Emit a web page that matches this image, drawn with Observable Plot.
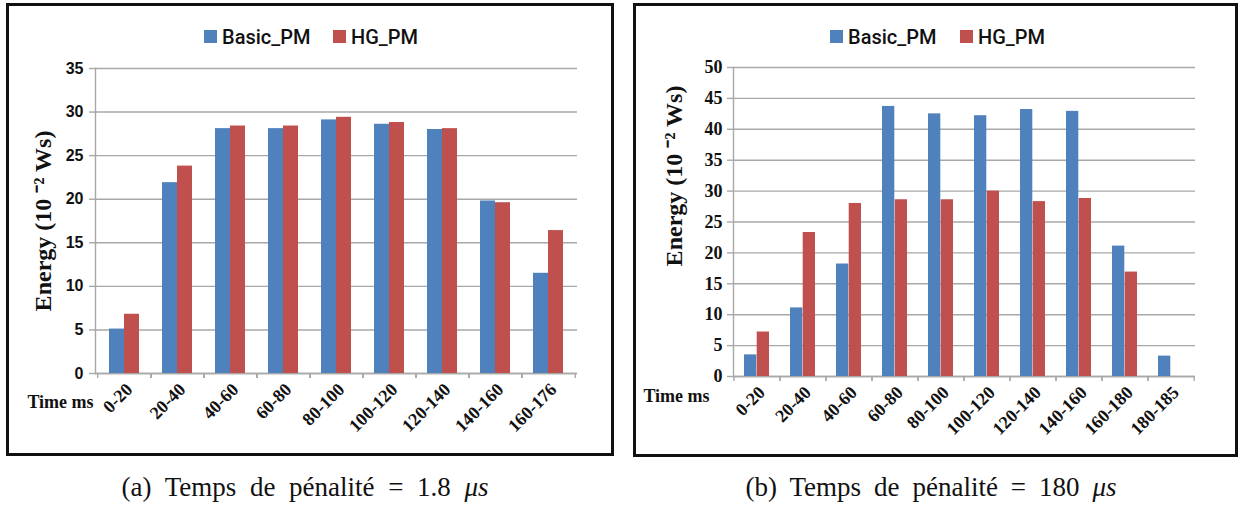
<!DOCTYPE html>
<html><head><meta charset="utf-8">
<script src="https://cdn.jsdelivr.net/npm/d3@7"></script>
<script src="https://cdn.jsdelivr.net/npm/@observablehq/plot@0.6"></script>
<style>
html,body{margin:0;padding:0;background:#fff}
body{width:1241px;height:506px;position:relative;overflow:hidden}
.box{position:absolute;box-sizing:border-box;border:3px solid #111}
.chart{position:absolute}
.sw{position:absolute;width:13px;height:13px}
.lt{position:absolute;height:24px;line-height:24px;font-family:Roboto,"Liberation Sans",sans-serif;font-weight:500;font-size:20px;color:#111;white-space:nowrap}
.cap{position:absolute;font-family:"Liberation Serif",serif;font-size:27px;color:#111;white-space:nowrap;line-height:30px}
</style></head><body>
<div class="box" style="left:6px;top:3px;width:608px;height:453px"></div>
<div class="box" style="left:633px;top:3px;width:605px;height:454px"></div>
<div id="A" class="chart" style="left:9px;top:6px"></div>
<div id="B" class="chart" style="left:636px;top:6px"></div>
<div id="legA"></div><div id="legB"></div>
<div id="capA" class="cap"></div>
<div id="capB" class="cap"></div>
<script>
// ---- data ----
const seriesNames = ["Basic_PM", "HG_PM"];
const seriesColors = ["#4F81BD", "#C0504D"];

const catsA = ["0-20","20-40","40-60","60-80","80-100","100-120","120-140","140-160","160-176"];
const basicA = [5.1, 21.9, 28.1, 28.1, 29.1, 28.6, 28.0, 19.8, 11.5];
const hgA    = [6.8, 23.8, 28.4, 28.4, 29.4, 28.8, 28.1, 19.6, 16.4];
const yTicksA = [0, 5, 10, 15, 20, 25, 30, 35];

const catsB = ["0-20","20-40","40-60","60-80","80-100","100-120","120-140","140-160","160-180","180-185"];
const basicB = [3.5, 11.1, 18.2, 43.7, 42.5, 42.2, 43.2, 42.9, 21.1, 3.3];
const hgB    = [7.2, 23.3, 28.0, 28.6, 28.6, 30.0, 28.3, 28.8, 16.9, null];
const yTicksB = [0, 5, 10, 15, 20, 25, 30, 35, 40, 45, 50];

const yTitle = "Energy (10 \u207B\u00B2 Ws)";
const xTitle = "Time ms";
const captionA = "(a) Temps de pénalité = 1.8 <i>μs</i>";
const captionB = "(b) Temps de pénalité = 180 <i>μs</i>";

// ---- chart builder ----
const serif = "'Liberation Serif', 'Times New Roman', serif";
function makeChart(o) {
  const rowsBasic = o.cats.map((c, i) => ({cat: c, value: o.basic[i]})).filter(d => d.value != null);
  const rowsHG = o.cats.map((c, i) => ({cat: c, value: o.hg[i]})).filter(d => d.value != null);
  const step = (o.width - o.ml - o.mr) / o.cats.length;
  const bw = step * (1 - o.pad);
  const grid = "#a8a8a8";
  return Plot.plot({
    width: o.width, height: o.height,
    marginLeft: o.ml, marginRight: o.mr, marginTop: o.mt, marginBottom: o.mb,
    style: {background: "transparent", color: "#111", overflow: "visible"},
    x: {type: "band", domain: o.cats, paddingInner: o.pad, paddingOuter: o.pad / 2, label: null},
    y: {domain: [0, o.yMax], label: null},
    marks: [
      Plot.gridY(o.yTicks, {stroke: grid, strokeOpacity: 1, strokeWidth: 1.4}),
      Plot.frame({anchor: "left", stroke: grid, strokeWidth: 1.4}),
      Plot.ruleY([0], {stroke: grid, strokeWidth: 1.4}),
      Plot.axisX({tickSize: 5, tickFormat: () => "", dx: -step / 2, stroke: grid, strokeWidth: 1.4, label: null}),
      Plot.axisX({tickSize: 5, tickFormat: () => "", dx: step / 2, stroke: grid, strokeWidth: 1.4, label: null}),
      Plot.barY(rowsBasic, {x: "cat", y: "value", fill: seriesColors[0], insetLeft: 0, insetRight: bw / 2}),
      Plot.barY(rowsHG, {x: "cat", y: "value", fill: seriesColors[1], insetLeft: bw / 2, insetRight: 0}),
      Plot.axisY(o.yTicks, {tickSize: 6, tickPadding: o.yPad, stroke: grid, strokeWidth: 1.4,
        fontSize: o.yFontSize, fontFamily: o.yFont, fontWeight: "bold", label: null}),
      Plot.axisX({tickSize: 0, tickRotate: -45, tickPadding: o.xPad, dx: o.xdx,
        fontSize: 18, fontFamily: serif, fontWeight: "bold", label: null}),
      Plot.text([yTitle], {frameAnchor: "left", rotate: -90, textAnchor: "middle", lineAnchor: "middle",
        dx: o.ytdx, dy: o.ytdy, fontSize: 24, fontFamily: serif, fontWeight: "bold", fill: "#111"}),
      Plot.text([xTitle], {frameAnchor: "bottom-left", textAnchor: "middle", lineAnchor: "middle",
        dx: o.xtdx, dy: o.xtdy, fontSize: 18, fontFamily: serif, fontWeight: "bold", fill: "#111"})
    ]
  });
}

document.getElementById("A").append(makeChart({
  cats: catsA, basic: basicA, hg: hgA, yTicks: yTicksA, yMax: 35,
  width: 602, height: 447, ml: 86, mr: 34, mt: 62, mb: 80, pad: 0.44,
  yFont: "'Liberation Sans', Arial, sans-serif", yFontSize: 16, yPad: 6,
  xPad: 13, xdx: 5, ytdx: -52, ytdy: 0, xtdx: -35, xtdy: 29
}));
document.getElementById("B").append(makeChart({
  cats: catsB, basic: basicB, hg: hgB, yTicks: yTicksB, yMax: 50,
  width: 599, height: 447, ml: 97, mr: 40, mt: 61, mb: 77, pad: 0.45,
  yFont: serif, yFontSize: 18, yPad: 5,
  xPad: 13, xdx: 5, ytdx: -59, ytdy: -46, xtdx: -57, xtdy: 20
}));

// ---- legends ----
function legend(id, items) {
  const el = document.getElementById(id);
  items.forEach((it, i) => {
    const sw = document.createElement("div");
    sw.className = "sw";
    sw.style.left = it.sq + "px"; sw.style.top = "30px"; sw.style.background = seriesColors[i];
    const t = document.createElement("div");
    t.className = "lt"; t.textContent = seriesNames[i];
    t.style.left = it.tx + "px"; t.style.top = "25px";
    el.append(sw, t);
  });
}
legend("legA", [{sq: 204, tx: 222}, {sq: 333, tx: 351}]);
legend("legB", [{sq: 830, tx: 848}, {sq: 960, tx: 978}]);

// ---- captions (word spacing stretched to the reference width) ----
function caption(id, html, cx, w) {
  const el = document.getElementById(id);
  el.innerHTML = html;
  const m = el.getBoundingClientRect().width;
  const spaces = (el.textContent.match(/ /g) || []).length;
  el.style.wordSpacing = Math.max(0, (w - m) / spaces) + "px";
  el.style.left = (cx - w / 2) + "px";
  el.style.top = "472px";
}
caption("capA", captionA, 305, 367);
caption("capB", captionB, 931, 371);
</script>
</body></html>
